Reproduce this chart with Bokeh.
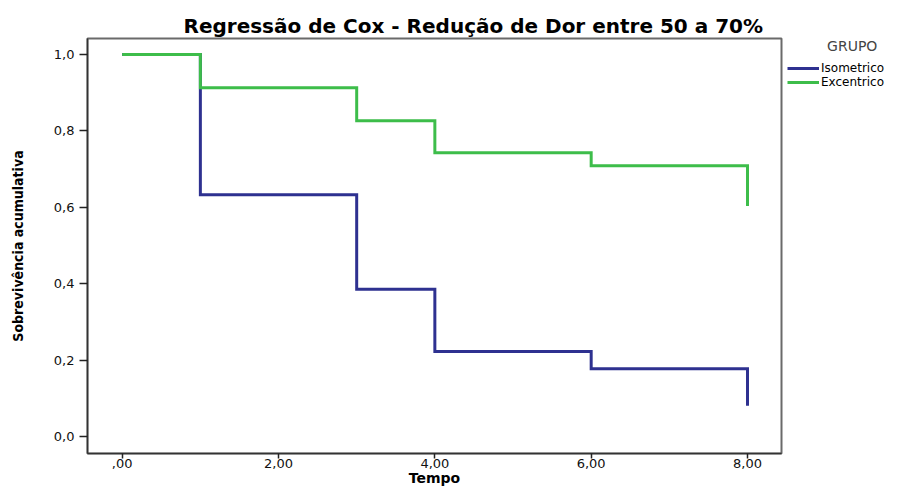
from bokeh.plotting import figure
from bokeh.models import Range1d, FixedTicker, Legend, LegendItem
from bokeh.layouts import row
from bokeh.embed import file_html
from bokeh.resources import INLINE

# ---- data ----
tempo = [0, 1, 3, 4, 6, 8]
surv_isometrico = [1.0, 0.633, 0.386, 0.223, 0.178, 0.081]
surv_excentrico = [1.0, 0.913, 0.827, 0.743, 0.709, 0.604]
group_names = ["Isometrico", "Excentrico"]
legend_title = "GRUPO"
chart_title = "Regressão de Cox - Redução de Dor entre 50 a 70%"
x_ticks = [0, 2, 4, 6, 8]
x_tick_labels = [",00", "2,00", "4,00", "6,00", "8,00"]
y_ticks = [0.0, 0.2, 0.4, 0.6, 0.8, 1.0]
y_tick_labels = ["0,0", "0,2", "0,4", "0,6", "0,8", "1,0"]

BLUE = "#2e3190"
GREEN = "#3dbd4a"
FONT = "DejaVu Sans"
W, H = 894, 488
PLOT_W = 783

# ---- main plot ----
p = figure(width=PLOT_W, height=H,
           x_range=Range1d(-0.444, 8.435), y_range=Range1d(-0.0438, 1.042),
           output_backend="svg", toolbar_location=None,
           min_border_left=87, min_border_right=2,
           min_border_top=29, min_border_bottom=0)

p.background_fill_color = "white"
p.border_fill_color = "white"
p.xgrid.visible = False
p.ygrid.visible = False
p.outline_line_color = "#6a6a6a"
p.outline_line_width = 2

p.step(tempo, surv_isometrico, mode="after", line_width=3,
       line_color=BLUE, line_join="miter")
p.step(tempo, surv_excentrico, mode="after", line_width=3,
       line_color=GREEN, line_join="miter")

p.title.text = chart_title
p.title.text_font = FONT
p.title.text_font_size = "20px"
p.title.text_font_style = "bold"
p.title.text_color = "black"
p.title.align = "left"
p.title.vertical_align = "middle"
p.title.offset = 96
p.title.standoff = 0

xa = p.xaxis[0]
xa.ticker = FixedTicker(ticks=x_ticks)
xa.major_label_overrides = dict(zip(x_ticks, x_tick_labels))
xa.minor_tick_line_color = None
xa.major_tick_out = 5
xa.major_tick_in = 0
xa.major_tick_line_color = "#222222"
xa.major_tick_line_width = 1.5
xa.axis_line_color = "#333333"
xa.axis_line_width = 1.5
xa.major_label_text_font = FONT
xa.major_label_text_font_size = "13px"
xa.major_label_text_color = "#111111"
xa.major_label_standoff = 0
xa.axis_label = "Tempo"
xa.axis_label_text_font = FONT
xa.axis_label_text_font_size = "14px"
xa.axis_label_text_font_style = "bold"
xa.axis_label_text_color = "black"
xa.axis_label_standoff = -1

ya = p.yaxis[0]
ya.ticker = FixedTicker(ticks=y_ticks)
ya.major_label_overrides = dict(zip(y_ticks, y_tick_labels))
ya.minor_tick_line_color = None
ya.major_tick_out = 8
ya.major_tick_in = 0
ya.major_tick_line_color = "#222222"
ya.major_tick_line_width = 1.5
ya.axis_line_color = "#333333"
ya.axis_line_width = 1.5
ya.major_label_text_font = FONT
ya.major_label_text_font_size = "13px"
ya.major_label_text_color = "#111111"
ya.major_label_standoff = 5
ya.axis_label = "Sobrevivência acumulativa"
ya.axis_label_text_font = "'Liberation Sans Narrow', 'DejaVu Sans Condensed', 'Liberation Sans'"
ya.axis_label_text_font_size = "14px"
ya.axis_label_text_font_style = "bold"
ya.axis_label_text_color = "black"
ya.axis_label_standoff = 25

# ---- legend strip to the right of the plot ----
q = figure(width=W - PLOT_W, height=H, output_backend="svg",
           toolbar_location=None, title=None,
           x_axis_type=None, y_axis_type=None,
           min_border_left=4, min_border_right=0, min_border_top=38, min_border_bottom=0)
q.outline_line_color = None
q.xgrid.visible = False
q.ygrid.visible = False
l_iso = q.step(tempo, surv_isometrico, mode="after", line_width=3,
               line_color=BLUE, visible=False)
l_exc = q.step(tempo, surv_excentrico, mode="after", line_width=3,
               line_color=GREEN, visible=False)

legend = Legend(items=[LegendItem(label=group_names[0], renderers=[l_iso]),
                       LegendItem(label=group_names[1], renderers=[l_exc])],
                location="top_left")
legend.title = "\u00a0" * 9 + legend_title
legend.title_text_font = FONT
legend.title_text_font_size = "14px"
legend.title_text_font_style = "normal"
legend.title_text_color = "#444444"
legend.title_standoff = 7
legend.label_text_font = FONT
legend.label_text_font_size = "12px"
legend.label_text_color = "black"
legend.label_height = 12
legend.glyph_height = 12
legend.glyph_width = 32
legend.label_standoff = 2
legend.spacing = 0
legend.padding = 0
legend.margin = 0
legend.border_line_color = None
legend.background_fill_alpha = 0
q.add_layout(legend)

layout = row(p, q)
open("out.html", "w").write(file_html(layout, INLINE))
